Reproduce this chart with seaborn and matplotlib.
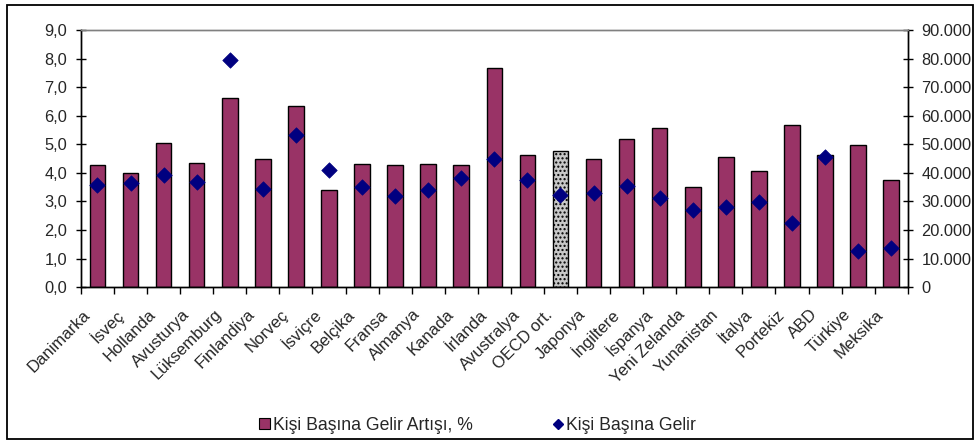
import matplotlib
matplotlib.use("Agg")
import matplotlib.pyplot as plt
import numpy as np
import pandas as pd
import seaborn as sns
from matplotlib.patches import Rectangle, Patch
from matplotlib.lines import Line2D
from matplotlib.ticker import FuncFormatter, FixedLocator
from matplotlib.transforms import ScaledTranslation

countries = [
    "Danimarka", "İsveç", "Hollanda", "Avusturya", "Lüksemburg", "Finlandiya",
    "Norveç", "İsviçre", "Belçika", "Fransa", "Almanya", "Kanada", "İrlanda",
    "Avustralya", "OECD ort.", "Japonya", "İngiltere", "İspanya", "Yeni Zelanda",
    "Yunanistan", "İtalya", "Portekiz", "ABD", "Türkiye", "Meksika",
]
growth_pct = [
    4.26, 3.98, 5.04, 4.34, 6.62, 4.48, 6.34, 3.40, 4.30, 4.26, 4.30, 4.26, 7.66,
    4.63, 4.77, 4.48, 5.18, 5.57, 3.50, 4.54, 4.07, 5.69, 4.63, 4.99, 3.74,
]
income = [
    35900, 36400, 39300, 36800, 79600, 34500, 53100, 41000, 35000, 32000, 33900,
    38200, 44700, 37400, 32200, 33100, 35400, 31200, 27100, 28100, 29900, 22500,
    45400, 12700, 13600,
]
highlight = "OECD ort."

df = pd.DataFrame({"country": countries, "growth": growth_pct, "income": income})

sns.set_theme(style="white")
plt.rcParams["font.family"] = ["Liberation Sans", "DejaVu Sans"]

bar_color = "#993366"
dot_color = "#000080"
fs = 11.8

fig = plt.figure(figsize=(9.75, 4.41), dpi=100)
ax = fig.add_axes([0.083, 0.349, 0.848, 0.583])

sns.barplot(data=df, x="country", y="growth", color=bar_color, width=0.47,
            edgecolor="black", linewidth=1.0, saturation=1, ax=ax)
for patch, name in zip(ax.patches, df["country"]):
    if name == highlight:
        patch.set_facecolor("#c8c8c8")
        patch.set_hatch("....")
        patch.set_edgecolor("black")

ax2 = ax.twinx()
sns.scatterplot(data=df, x="country", y="income", marker="D", s=62,
                color=dot_color, edgecolor=dot_color, linewidth=0.5, ax=ax2,
                zorder=5, legend=False)

n = len(countries)
ax.set_xlim(-0.5, n - 0.5)
ax.set_ylim(0, 9)
ax2.set_ylim(0, 90000)
ax.set_yticks(np.arange(0, 9.01, 1))
ax2.set_yticks(np.arange(0, 90001, 10000))
ax.yaxis.set_major_formatter(FuncFormatter(lambda v, p: f"{v:.1f}".replace(".", ",")))
ax2.yaxis.set_major_formatter(FuncFormatter(lambda v, p: f"{int(v):,}".replace(",", ".")))

ax.xaxis.set_minor_locator(FixedLocator(np.arange(-0.5, n, 1)))
ax.tick_params(axis="x", which="major", length=0, pad=18)
ax.tick_params(axis="x", which="minor", length=5, width=1, color="black", direction="out", bottom=True)
ax.tick_params(axis="y", length=7, width=1, color="black", direction="inout", left=True, labelsize=fs, pad=6.5)
ax2.tick_params(axis="y", length=7, width=1, color="black", direction="inout", right=True, labelsize=fs, pad=6.5)

ax.set_xticks(range(n))
ax.set_xticklabels(countries, rotation=45, ha="right", va="center",
                   rotation_mode="anchor", fontsize=12)

ax.set_xlabel("")
ax.set_ylabel("")
ax2.set_xlabel("")
ax2.set_ylabel("")

for a in (ax, ax2):
    for side in ("left", "right", "bottom"):
        a.spines[side].set_color("black")
        a.spines[side].set_linewidth(1.0)
    a.spines["top"].set_color("#808080")
    a.spines["top"].set_linewidth(1.0)
    a.grid(False)

handles = [
    Patch(facecolor=bar_color, edgecolor="black", linewidth=0.8, label="Kişi Başına Gelir Artışı, %"),
    Line2D([], [], marker="D", linestyle="none", color=dot_color, markersize=5.6, label="Kişi Başına Gelir"),
]
fig.legend(handles=handles, loc="center", bbox_to_anchor=(0.4897, 0.036), ncol=2,
           frameon=False, fontsize=12.7, columnspacing=4.5, handlelength=0.63,
           handleheight=0.63, handletextpad=0.15)

fig.patches.append(Rectangle((7 / 975, 2 / 441), 966 / 975, 434 / 441, transform=fig.transFigure,
                             fill=False, edgecolor="black", linewidth=1.3, zorder=10))

# shift rotated labels a little left, as in the reference
shift = ScaledTranslation(-0.10, 0, fig.dpi_scale_trans)
for lbl in ax.get_xticklabels():
    lbl.set_transform(lbl.get_transform() + shift)

fig.savefig("out.png", dpi=100)
